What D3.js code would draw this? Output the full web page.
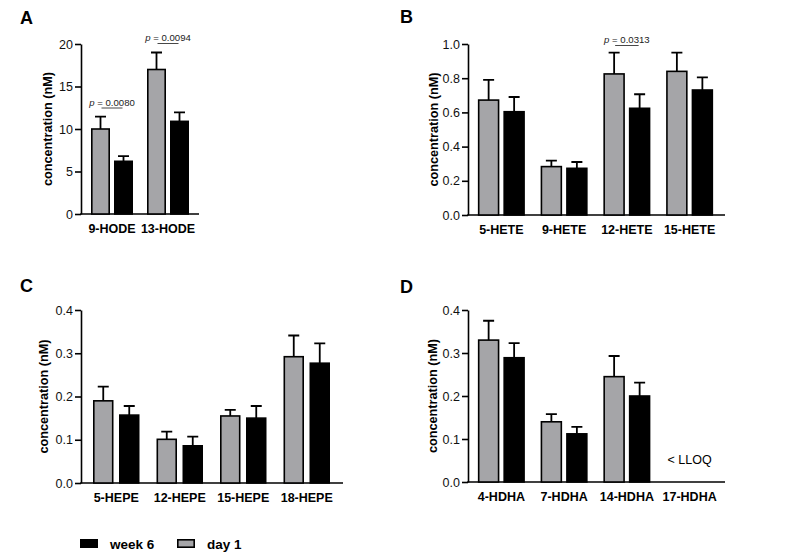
<!DOCTYPE html>
<html>
<head>
<meta charset="utf-8">
<script src="https://cdn.jsdelivr.net/npm/d3@7"></script>
<style>
  html, body { margin: 0; padding: 0; background: #fff; }
  svg { display: block; font-family: "Liberation Sans", Arial, sans-serif; }
</style>
</head>
<body>
<svg id="chart" width="787" height="557"></svg>
<script>
// ---- data ----
const seriesNames = ["day 1", "week 6"];

const catsA = ["9-HODE", "13-HODE"];
const day1A = [10.0, 17.0];
const day1ErrA = [1.45, 2.0];
const week6A = [6.2, 10.9];
const week6ErrA = [0.6, 1.05];
const ticksA = [0, 5, 10, 15, 20];

const catsB = ["5-HETE", "9-HETE", "12-HETE", "15-HETE"];
const day1B = [0.672, 0.283, 0.825, 0.840];
const day1ErrB = [0.118, 0.035, 0.124, 0.109];
const week6B = [0.604, 0.273, 0.624, 0.731];
const week6ErrB = [0.086, 0.037, 0.082, 0.074];
const ticksB = [0, 0.2, 0.4, 0.6, 0.8, 1.0];

const catsC = ["5-HEPE", "12-HEPE", "15-HEPE", "18-HEPE"];
const day1C = [0.190, 0.101, 0.155, 0.292];
const day1ErrC = [0.033, 0.018, 0.014, 0.049];
const week6C = [0.157, 0.086, 0.150, 0.277];
const week6ErrC = [0.021, 0.021, 0.028, 0.046];
const ticksC = [0, 0.1, 0.2, 0.3, 0.4];

const catsD = ["4-HDHA", "7-HDHA", "14-HDHA", "17-HDHA"];
const day1D = [0.330, 0.140, 0.245, null];
const day1ErrD = [0.045, 0.018, 0.048, null];
const week6D = [0.289, 0.112, 0.200, null];
const week6ErrD = [0.034, 0.016, 0.031, null];
const ticksD = [0, 0.1, 0.2, 0.3, 0.4];

const pValuesA = [{cat: "9-HODE", label: "0.0080"}, {cat: "13-HODE", label: "0.0094"}];
const pValuesB = [{cat: "12-HETE", label: "0.0313"}];

// ---- style ----
const GRAY = "#a5a5a8";
const BLACK = "#000";
const svg = d3.select("#chart");

function panel(cfg) {
  const g = svg.append("g");
  const y = d3.scaleLinear().domain(cfg.domain).range([cfg.y0, cfg.y1]);
  const x = d3.scaleBand().domain(cfg.cats).range(cfg.xRange).padding(0);

  // y axis
  const yAxis = d3.axisLeft(y).tickValues(cfg.ticks).tickSize(6).tickSizeOuter(0).tickPadding(2)
    .tickFormat(cfg.fmt);
  const ya = g.append("g").attr("transform", `translate(${cfg.axisX},0)`).call(yAxis);
  ya.select(".domain").attr("stroke", "#000").attr("stroke-width", 1.6);
  ya.selectAll(".tick line").attr("stroke", "#000").attr("stroke-width", 1.6);
  ya.selectAll(".tick text").attr("font-size", 12.5).attr("fill", "#111")
    .attr("font-family", '"Liberation Sans", Arial, sans-serif');

  // x axis line
  g.append("line").attr("x1", cfg.axisX - 0.8).attr("x2", cfg.axisEnd)
    .attr("y1", y(0)).attr("y2", y(0)).attr("stroke", "#000").attr("stroke-width", 1.6);

  // y title
  g.append("text")
    .attr("transform", `translate(${cfg.titleX},${(cfg.y0 + cfg.y1) / 2}) rotate(-90)`)
    .attr("text-anchor", "middle").attr("dominant-baseline", "central")
    .attr("font-size", 12.7).attr("font-weight", "bold").text("concentration (nM)");

  // panel letter
  g.append("text").attr("x", cfg.letterX).attr("y", cfg.letterY)
    .attr("font-size", 18).attr("font-weight", "bold").text(cfg.letter);

  // category labels
  g.selectAll(".cat").data(cfg.cats).join("text")
    .attr("x", d => x(d) + x.bandwidth() / 2).attr("y", cfg.catY)
    .attr("text-anchor", "middle").attr("font-size", 12.5).attr("font-weight", "bold")
    .text(d => d);

  // bars
  const rows = [];
  cfg.cats.forEach((c, i) => {
    if (cfg.day1[i] != null) rows.push({cat: c, s: 0, v: cfg.day1[i], e: cfg.day1Err[i]});
    if (cfg.week6[i] != null) rows.push({cat: c, s: 1, v: cfg.week6[i], e: cfg.week6Err[i]});
  });
  const bx = d => {
    const c = x(d.cat) + x.bandwidth() / 2;
    return d.s === 0 ? c - cfg.gap / 2 - cfg.bw : c + cfg.gap / 2;
  };
  // error bars (upward only)
  g.selectAll(".err").data(rows).join("path")
    .attr("d", d => {
      const cx = bx(d) + cfg.bw / 2;
      const top = y(d.v + d.e);
      return `M${cx},${y(d.v)}V${top}M${cx - 5.5},${top}H${cx + 5.5}`;
    })
    .attr("stroke", "#000").attr("stroke-width", 1.8).attr("fill", "none");
  g.selectAll(".bar").data(rows).join("rect")
    .attr("x", d => bx(d) + 0.8).attr("width", cfg.bw - 1.6)
    .attr("y", d => y(d.v)).attr("height", d => y(0) - y(d.v))
    .attr("fill", d => d.s === 0 ? GRAY : BLACK)
    .attr("stroke", "#000").attr("stroke-width", 1.6);

  // p-values
  (cfg.pvals || []).forEach(p => {
    const c = x(p.cat) + x.bandwidth() / 2;
    const ly = cfg.pLineY(p);
    g.append("line").attr("x1", c - cfg.bw / 2 - 1).attr("x2", c + cfg.bw / 2 + 1)
      .attr("y1", ly).attr("y2", ly).attr("stroke", "#333").attr("stroke-width", 0.9);
    const t = g.append("text").attr("x", c).attr("y", ly - 2.5).attr("text-anchor", "middle")
      .attr("font-size", 9.6).attr("fill", "#222");
    t.append("tspan").attr("font-style", "italic").text("p");
    t.append("tspan").text(" = " + p.label);
  });

  // LLOQ note
  if (cfg.lloq) {
    g.append("text").attr("x", x(cfg.lloq) + x.bandwidth() / 2).attr("y", y(0) - 18)
      .attr("text-anchor", "middle").attr("font-size", 12.5).text("< LLOQ");
  }
  return {x, y};
}

panel({
  letter: "A", letterX: 20, letterY: 24,
  cats: catsA, day1: day1A, day1Err: day1ErrA, week6: week6A, week6Err: week6ErrA,
  domain: [0, 20], ticks: ticksA, fmt: d3.format("d"),
  y0: 214, y1: 44, axisX: 81, axisEnd: 199, xRange: [84, 196],
  bw: 19, gap: 4, titleX: 48, catY: 233,
  pvals: pValuesA,
  pLineY: p => p.cat === "9-HODE" ? 108 : 43.5
});

panel({
  letter: "B", letterX: 400, letterY: 23,
  cats: catsB, day1: day1B, day1Err: day1ErrB, week6: week6B, week6Err: week6ErrB,
  domain: [0, 1], ticks: ticksB, fmt: d3.format(".1f"),
  y0: 215, y1: 44, axisX: 468, axisEnd: 725, xRange: [470, 721],
  bw: 21.5, gap: 4, titleX: 434, catY: 234,
  pvals: pValuesB,
  pLineY: p => 45.5
});

panel({
  letter: "C", letterX: 20, letterY: 292,
  cats: catsC, day1: day1C, day1Err: day1ErrC, week6: week6C, week6Err: week6ErrC,
  domain: [0, 0.4], ticks: ticksC, fmt: d3.format(".1f"),
  y0: 483, y1: 310, axisX: 81, axisEnd: 343, xRange: [84.5, 338.5],
  bw: 20.5, gap: 5.5, titleX: 44, catY: 502
});

panel({
  letter: "D", letterX: 400, letterY: 293,
  cats: catsD, day1: day1D, day1Err: day1ErrD, week6: week6D, week6Err: week6ErrD,
  domain: [0, 0.4], ticks: ticksD, fmt: d3.format(".1f"),
  y0: 482, y1: 310, axisX: 468, axisEnd: 725, xRange: [470, 721],
  bw: 21.5, gap: 4, titleX: 433, catY: 501,
  lloq: "17-HDHA"
});

// legend
const legendItems = [
  {name: "week 6", fill: BLACK},
  {name: "day 1", fill: GRAY}
];
const lg = svg.append("g").attr("transform", "translate(80,539)");
const lx = [0, 97];
legendItems.forEach((d, i) => {
  const it = lg.append("g").attr("transform", `translate(${lx[i]},0)`);
  it.append("rect").attr("x", 0.8).attr("y", 0.8).attr("width", 16.4).attr("height", 7.4)
    .attr("fill", d.fill).attr("stroke", "#000").attr("stroke-width", 1.6);
  it.append("text").attr("x", 30).attr("y", 9.5).attr("font-size", 13.5)
    .attr("font-weight", "bold").text(d.name);
});
</script>
</body>
</html>
